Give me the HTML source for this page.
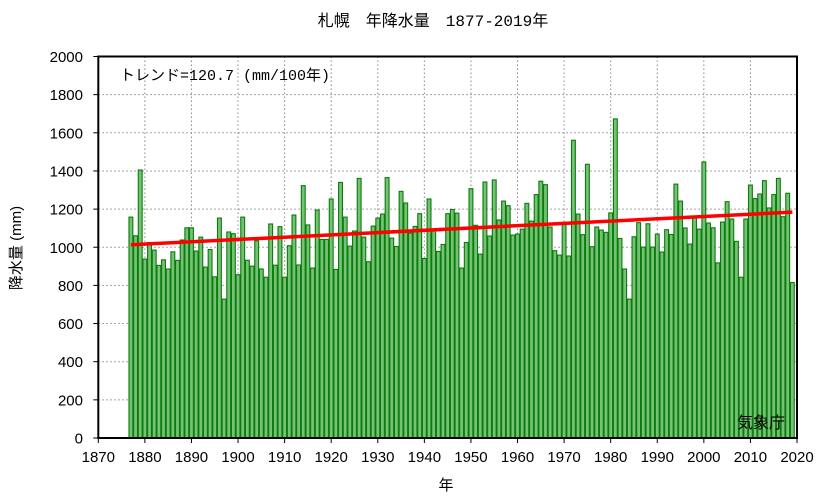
<!DOCTYPE html>
<html><head><meta charset="utf-8"><style>
body{margin:0;background:#fff;width:833px;height:498px;overflow:hidden}
svg text{font-family:"Liberation Sans","Noto Sans CJK JP",sans-serif;fill:#000}
.m{font-family:"Liberation Mono","Noto Sans CJK JP",monospace}
</style></head><body>
<svg id="s" width="833" height="498" xmlns="http://www.w3.org/2000/svg"></svg>
<script>
var v=[1158,1060,1405,938,1025,985,905,934,886,976,931,1038,1102,1102,980,1053,896,988,845,1153,728,1080,1071,856,1158,932,901,1034,886,843,1122,906,1108,843,1008,1169,907,1323,1117,891,1195,1041,1041,1253,884,1340,1158,1006,1085,1361,1053,924,1111,1153,1174,1365,1048,1004,1293,1232,1074,1109,1176,941,1253,1088,978,1015,1176,1198,1179,891,1025,1307,1115,964,1342,1059,1353,1143,1242,1218,1064,1069,1095,1230,1137,1276,1346,1328,1106,982,959,1118,954,1561,1174,1066,1435,1003,1106,1090,1078,1180,1673,1046,886,728,1055,1129,1001,1123,1001,1069,975,1092,1067,1331,1242,1101,1017,1155,1095,1447,1127,1102,918,1132,1239,1148,1031,843,1148,1326,1255,1279,1349,1206,1276,1361,1160,1283,815];
var L=98.3,R=797,T=56.5,B=438,px=(R-L)/150,py=(B-T)/2000;
function X(y){return L+(y-1870)*px}function Y(v){return B-v*py}
var h='';
for(var i=0;i<=10;i++){var y=Y(i*200);if(i>0&&i<10)h+='<line x1="'+L+'" x2="'+R+'" y1="'+y+'" y2="'+y+'" stroke="#888" stroke-dasharray="1.5,2.5"/>';
h+='<line x1="'+(L-5)+'" x2="'+L+'" y1="'+y+'" y2="'+y+'" stroke="#000"/>';
h+='<text x="83" y="'+(y+5.5)+'" font-size="15" text-anchor="end">'+(i*200)+'</text>';}
for(var yr=1870;yr<=2020;yr+=10){var x=X(yr);if(yr>1870&&yr<2020)h+='<line x1="'+x+'" x2="'+x+'" y1="'+T+'" y2="'+B+'" stroke="#888" stroke-dasharray="1.5,2.5"/>';
h+='<line x1="'+x+'" x2="'+x+'" y1="'+B+'" y2="'+(B+5)+'" stroke="#000"/>';
h+='<text x="'+x+'" y="'+(B+24)+'" font-size="15" text-anchor="middle">'+yr+'</text>';}
for(var i=0;i<v.length;i++){var c=X(1877+i);h+='<rect x="'+(c-px/2+0.4).toFixed(2)+'" y="'+Y(v[i]).toFixed(2)+'" width="'+(px-0.8).toFixed(2)+'" height="'+(v[i]*py).toFixed(2)+'" fill="#74c274" stroke="#0c7a0c" stroke-width="1.1"/>';}
h+='<line x1="'+X(1877)+'" y1="'+Y(1013)+'" x2="'+X(2019)+'" y2="'+Y(1184)+'" stroke="#f00" stroke-width="3.5"/>';
h+='<rect x="'+L+'" y="'+T+'" width="'+(R-L)+'" height="'+(B-T)+'" fill="none" stroke="#000" stroke-width="2"/>';
h+='<text x="120" y="80" font-size="15" class="m">トレンド=120.7 (mm/100年)</text>';
h+='<text x="785" y="428" font-size="16" text-anchor="end">気象庁</text>';
h+='<text x="433" y="26" font-size="16" text-anchor="middle" class="m">札幌　年降水量　1877-2019年</text>';
h+='<text x="446" y="490" font-size="15" text-anchor="middle">年</text>';
h+='<text transform="translate(21,248) rotate(-90)" font-size="15" text-anchor="middle">降水量 (mm)</text>';
document.getElementById('s').innerHTML=h;
</script>
</body></html>
